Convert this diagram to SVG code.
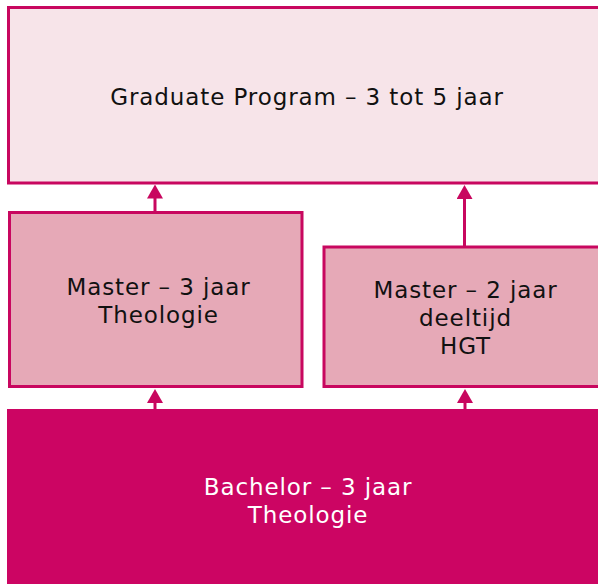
<svg xmlns="http://www.w3.org/2000/svg" width="598" height="584" viewBox="0 0 598 584">
  <style>
    .lbl { font-family: "DejaVu Sans", Verdana, sans-serif; font-size: 23px; letter-spacing: 0.9px; text-anchor: middle; fill: #111111; }
    .light { fill: #ffffff; }
    .conn { stroke: #C8075F; stroke-width: 3; fill: none; }
  </style>
  <defs>
    <marker id="arr" markerUnits="userSpaceOnUse" markerWidth="14" markerHeight="16" refX="10" refY="8" orient="auto">
      <path d="M0,0 L14,8 L0,16 z" fill="#C8075F"/>
    </marker>
  </defs>
  <rect width="598" height="584" fill="#ffffff"/>

  <g id="graduate">
    <rect x="8.5" y="7.5" width="610" height="175.5" fill="#F7E4E9" stroke="#C8075F" stroke-width="3"/>
    <text class="lbl" x="307" y="105">Graduate Program – 3 tot 5 jaar</text>
  </g>

  <g id="master3">
    <rect x="9.5" y="212.5" width="292.5" height="174" fill="#E6A9B7" stroke="#C8075F" stroke-width="3"/>
    <text class="lbl" x="158.5" y="295">Master – 3 jaar</text>
    <text class="lbl" x="158.5" y="323">Theologie</text>
  </g>

  <g id="master2">
    <rect x="324" y="247" width="300" height="139.5" fill="#E6A9B7" stroke="#C8075F" stroke-width="3"/>
    <text class="lbl" x="465.5" y="297.5">Master – 2 jaar</text>
    <text class="lbl" x="465.5" y="325.5">deeltijd</text>
    <text class="lbl" x="465.5" y="353.5">HGT</text>
  </g>

  <g id="bachelor">
    <rect x="7" y="409" width="610" height="190" fill="#CC0563"/>
    <text class="lbl light" x="308" y="495">Bachelor – 3 jaar</text>
    <text class="lbl light" x="308" y="523">Theologie</text>
  </g>

  <g id="connectors">
    <line class="conn" x1="155" y1="211" x2="155" y2="188.5" marker-end="url(#arr)"/>
    <line class="conn" x1="464.5" y1="246" x2="464.5" y2="189" marker-end="url(#arr)"/>
    <line class="conn" x1="155" y1="409" x2="155" y2="393" marker-end="url(#arr)"/>
    <line class="conn" x1="465" y1="409" x2="465" y2="393" marker-end="url(#arr)"/>
  </g>
</svg>
